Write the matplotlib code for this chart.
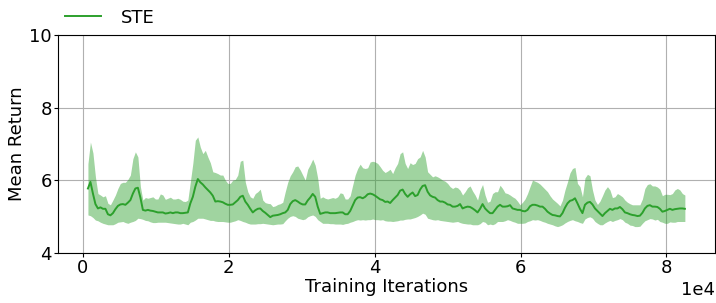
import numpy as np
import matplotlib
matplotlib.use("Agg")
import matplotlib.pyplot as plt

label = "STE"
n_points = 240
x_start, x_end = 685, 82530

mean_return = [
    5.77, 5.95, 5.63, 5.34, 5.22, 5.25, 5.21, 5.21, 5.06, 5.03, 5.09, 5.20, 5.29, 5.33, 5.34, 5.32, 5.38, 5.45, 5.63, 5.77,
    5.79, 5.52, 5.18, 5.16, 5.18, 5.16, 5.15, 5.13, 5.11, 5.11, 5.11, 5.08, 5.09, 5.11, 5.09, 5.11, 5.11, 5.09, 5.09, 5.10,
    5.11, 5.36, 5.54, 5.82, 6.03, 5.94, 5.88, 5.80, 5.73, 5.66, 5.57, 5.41, 5.42, 5.41, 5.39, 5.35, 5.32, 5.32, 5.33, 5.39,
    5.45, 5.54, 5.57, 5.41, 5.32, 5.21, 5.11, 5.17, 5.21, 5.22, 5.15, 5.10, 5.04, 4.98, 5.02, 5.03, 5.04, 5.06, 5.09, 5.11,
    5.18, 5.34, 5.42, 5.45, 5.41, 5.36, 5.33, 5.33, 5.44, 5.52, 5.62, 5.54, 5.27, 5.07, 5.09, 5.11, 5.11, 5.09, 5.09, 5.09,
    5.10, 5.11, 5.11, 5.06, 5.06, 5.15, 5.30, 5.45, 5.52, 5.53, 5.50, 5.54, 5.61, 5.63, 5.61, 5.57, 5.52, 5.47, 5.45, 5.40,
    5.41, 5.37, 5.45, 5.52, 5.59, 5.71, 5.74, 5.62, 5.54, 5.61, 5.66, 5.56, 5.59, 5.74, 5.84, 5.86, 5.68, 5.58, 5.54, 5.52,
    5.45, 5.41, 5.41, 5.38, 5.33, 5.32, 5.27, 5.27, 5.29, 5.34, 5.22, 5.25, 5.27, 5.26, 5.22, 5.17, 5.11, 5.21, 5.34, 5.22,
    5.15, 5.09, 5.09, 5.18, 5.27, 5.32, 5.27, 5.27, 5.28, 5.31, 5.22, 5.20, 5.18, 5.18, 5.15, 5.14, 5.18, 5.28, 5.32, 5.32,
    5.30, 5.27, 5.27, 5.21, 5.13, 5.08, 5.04, 5.03, 5.01, 5.00, 5.09, 5.24, 5.36, 5.43, 5.45, 5.50, 5.36, 5.21, 5.09, 5.32,
    5.38, 5.40, 5.33, 5.22, 5.15, 5.08, 5.01, 5.09, 5.15, 5.21, 5.18, 5.22, 5.22, 5.26, 5.20, 5.11, 5.09, 5.06, 5.04, 5.03,
    5.01, 5.02, 5.10, 5.22, 5.29, 5.31, 5.27, 5.27, 5.26, 5.21, 5.13, 5.15, 5.18, 5.21, 5.18, 5.20, 5.21, 5.22, 5.22, 5.21,
]

upper = [
    6.45, 7.05, 6.75, 6.09, 5.63, 5.59, 5.54, 5.57, 5.36, 5.32, 5.45, 5.59, 5.77, 5.91, 5.94, 5.94, 6.02, 6.14, 6.59, 6.78,
    6.64, 5.82, 5.45, 5.52, 5.50, 5.52, 5.54, 5.48, 5.48, 5.62, 5.59, 5.47, 5.50, 5.53, 5.48, 5.48, 5.50, 5.47, 5.42, 5.41,
    5.45, 5.95, 6.46, 7.10, 7.19, 6.91, 6.73, 6.82, 6.64, 6.48, 6.23, 6.21, 6.18, 6.14, 6.14, 6.00, 5.91, 5.91, 6.00, 6.02,
    6.14, 6.52, 6.55, 5.95, 5.68, 5.54, 5.50, 5.63, 5.68, 5.75, 5.45, 5.38, 5.36, 5.35, 5.27, 5.29, 5.33, 5.35, 5.39, 5.68,
    5.94, 6.12, 6.23, 6.37, 6.39, 6.28, 6.14, 6.00, 6.30, 6.43, 6.58, 6.41, 6.05, 5.50, 5.54, 5.50, 5.48, 5.50, 5.52, 5.50,
    5.54, 5.65, 5.63, 5.48, 5.48, 5.57, 5.86, 6.14, 6.32, 6.44, 6.34, 6.32, 6.34, 6.50, 6.52, 6.50, 6.46, 6.37, 6.27, 6.21,
    6.25, 6.30, 6.18, 6.34, 6.46, 6.73, 6.78, 6.46, 6.32, 6.48, 6.43, 6.46, 6.59, 6.64, 6.82, 6.64, 6.23, 6.16, 6.09, 6.12,
    6.09, 6.05, 6.00, 5.97, 5.91, 5.82, 5.77, 5.81, 5.79, 5.72, 5.59, 5.68, 5.79, 5.84, 5.70, 5.59, 5.45, 5.73, 5.88, 5.59,
    5.39, 5.42, 5.63, 5.68, 5.68, 5.86, 5.77, 5.65, 5.63, 5.59, 5.54, 5.50, 5.42, 5.32, 5.39, 5.48, 5.63, 5.82, 6.00, 5.97,
    5.94, 5.89, 5.82, 5.75, 5.68, 5.57, 5.48, 5.42, 5.36, 5.29, 5.45, 5.73, 5.95, 6.20, 6.32, 6.35, 5.91, 5.82, 5.54, 6.06,
    6.16, 6.12, 5.73, 5.45, 5.33, 5.42, 5.57, 5.73, 5.82, 5.73, 5.52, 5.54, 5.63, 5.59, 5.54, 5.45, 5.39, 5.35, 5.32, 5.32,
    5.32, 5.32, 5.48, 5.77, 5.88, 5.90, 5.84, 5.84, 5.81, 5.75, 5.57, 5.61, 5.61, 5.60, 5.63, 5.73, 5.77, 5.73, 5.63, 5.59,
]

lower = [
    5.04, 5.02, 4.97, 4.90, 4.88, 4.84, 4.81, 4.79, 4.77, 4.77, 4.77, 4.80, 4.84, 4.85, 4.86, 4.83, 4.81, 4.84, 4.86, 4.89,
    4.95, 4.94, 4.92, 4.89, 4.88, 4.85, 4.83, 4.83, 4.84, 4.84, 4.84, 4.84, 4.83, 4.82, 4.81, 4.80, 4.79, 4.79, 4.81, 4.79,
    4.77, 4.84, 4.86, 4.90, 4.95, 4.95, 4.95, 4.93, 4.91, 4.89, 4.89, 4.87, 4.86, 4.86, 4.86, 4.85, 4.84, 4.84, 4.86, 4.88,
    4.91, 4.89, 4.86, 4.84, 4.81, 4.79, 4.79, 4.79, 4.80, 4.80, 4.81, 4.80, 4.79, 4.78, 4.77, 4.78, 4.79, 4.79, 4.80, 4.88,
    4.95, 5.00, 5.02, 5.00, 4.95, 4.93, 4.91, 4.93, 4.99, 5.02, 5.04, 5.00, 4.91, 4.86, 4.81, 4.81, 4.81, 4.80, 4.80, 4.79,
    4.79, 4.79, 4.78, 4.80, 4.81, 4.84, 4.86, 4.89, 4.91, 4.90, 4.91, 4.90, 4.91, 4.91, 4.93, 4.91, 4.91, 4.90, 4.91, 4.88,
    4.87, 4.87, 4.86, 4.87, 4.88, 4.90, 4.90, 4.92, 4.93, 4.93, 4.95, 4.97, 5.00, 5.04, 5.09, 5.06, 4.95, 4.93, 4.91, 4.90,
    4.91, 4.89, 4.88, 4.87, 4.86, 4.85, 4.84, 4.85, 4.86, 4.83, 4.81, 4.80, 4.79, 4.79, 4.77, 4.77, 4.77, 4.80, 4.86, 4.84,
    4.77, 4.79, 4.77, 4.80, 4.86, 4.86, 4.86, 4.88, 4.91, 4.89, 4.86, 4.84, 4.81, 4.81, 4.81, 4.82, 4.86, 4.88, 4.91, 4.90,
    4.91, 4.89, 4.86, 4.84, 4.81, 4.79, 4.77, 4.74, 4.72, 4.74, 4.77, 4.82, 4.86, 4.89, 4.91, 4.88, 4.86, 4.83, 4.81, 4.93,
    4.97, 4.99, 4.95, 4.86, 4.81, 4.77, 4.77, 4.82, 4.86, 4.89, 4.86, 4.89, 4.91, 4.94, 4.91, 4.84, 4.81, 4.76, 4.75, 4.72,
    4.72, 4.73, 4.81, 4.88, 4.91, 4.94, 4.93, 4.90, 4.92, 4.86, 4.84, 4.81, 4.81, 4.85, 4.84, 4.84, 4.86, 4.86, 4.86, 4.86,
]

iterations = np.linspace(x_start, x_end, n_points)

fs = 13
fig = plt.figure(figsize=(7.16, 3.03), dpi=100)
ax = fig.add_axes([0.081, 0.166, 0.918, 0.7185])

color = "#2ca02c"
ax.fill_between(iterations, lower, upper, color=color, alpha=0.45, linewidth=0)
ax.plot(iterations, mean_return, color=color, linewidth=1.4, label=label)

ax.set_xlim(-3420, 86700)
ax.set_ylim(4, 10)
ax.set_yticks([4, 6, 8, 10])
ax.set_xticks([0, 20000, 40000, 60000, 80000])
ax.ticklabel_format(axis="x", style="sci", scilimits=(0, 0))
ax.xaxis.get_offset_text().set_fontsize(fs)
ax.tick_params(labelsize=fs, pad=1.5, length=3)
ax.grid(True, color="#b0b0b0", linewidth=0.8)
ax.set_axisbelow(True)
ax.set_xlabel("Training Iterations", fontsize=fs, labelpad=1)
ax.set_ylabel("Mean Return", fontsize=fs, labelpad=2.5)

ax.legend(loc="lower left", bbox_to_anchor=(0.0, 1.005), frameon=False,
          fontsize=fs, borderaxespad=0.0, handletextpad=1.1)

fig.savefig("out.png", dpi=100)
